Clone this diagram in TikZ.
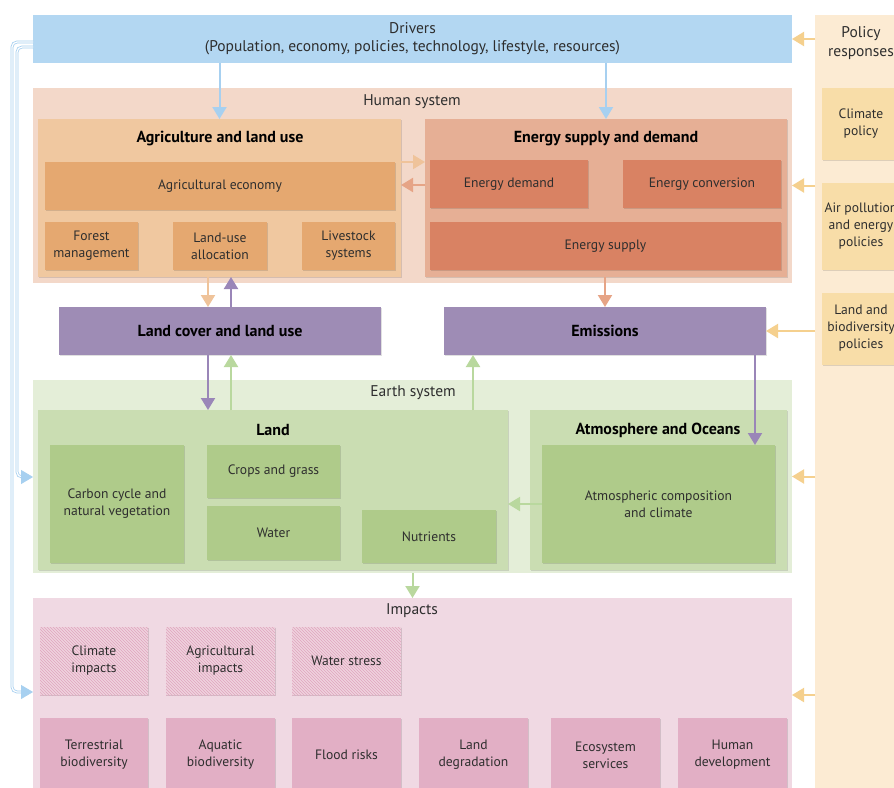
\documentclass[tikz,border=0pt]{standalone}
\usepackage{fontspec}
\setmainfont{PT Sans}
\usetikzlibrary{arrows.meta,patterns,shadows}
\definecolor{txt}{HTML}{2E2E2E}
\definecolor{drv}{HTML}{B3D7F2}
\definecolor{drva}{HTML}{A7D0F0}
\definecolor{pol}{HTML}{FCEBD3}
\definecolor{polb}{HTML}{F8DDA8}
\definecolor{pola}{HTML}{F5D08E}
\definecolor{hum}{HTML}{F3D8C9}
\definecolor{agr}{HTML}{F0C8A0}
\definecolor{agrs}{HTML}{E5A870}
\definecolor{agra}{HTML}{EFC39A}
\definecolor{ene}{HTML}{E6AF95}
\definecolor{enes}{HTML}{D98263}
\definecolor{enea}{HTML}{E6A486}
\definecolor{pur}{HTML}{9E8CB5}
\definecolor{pura}{HTML}{9A86B8}
\definecolor{ear}{HTML}{E4EED8}
\definecolor{lnd}{HTML}{CADDB2}
\definecolor{lnds}{HTML}{AFCB8A}
\definecolor{grna}{HTML}{B9D89E}
\definecolor{imp}{HTML}{F0D9E3}
\definecolor{imps}{HTML}{E2AFC5}
\definecolor{hatb}{HTML}{EFD2DE}
\definecolor{hatl}{HTML}{E0A5BE}
\newcommand\mkbox[7]{\node[#6,minimum width={#4-#2},minimum height={#5-#3}] (#1) at ({(#2+#4)/2},{(#3+#5)/2}) {#7};}
\begin{document}
\begin{tikzpicture}[x=1pt,y=-1pt,
  base/.style={draw=none,inner sep=0pt,outer sep=0pt,align=center,text=txt,font=\fontsize{13.6}{17}\selectfont},
  sub/.style={base,drop shadow={shadow xshift=1pt,shadow yshift=-1pt,fill=black,opacity=0.12}},
  ttl/.style={inner sep=0pt,text=black,font=\bfseries\fontsize{16}{18}\selectfont},
  lbl/.style={inner sep=0pt,text=txt,font=\fontsize{15.5}{18}\selectfont},
  hatched/.style={sub,fill=hatb,postaction={pattern=north west lines,pattern color=hatl}},
  arr/.style={line width=2pt,-{Triangle[width=14pt,length=12pt]}},
  fbk/.style={draw=drva,line width=0.8pt,double=white,double distance=1.2pt,rounded corners=5pt,-{Triangle[width=14pt,length=12pt,fill=drva]}}
]
\useasboundingbox (0,0) rectangle (894,787);
\fill[white] (0,0) rectangle (894,787);
% policy panel
\mkbox{pol}{815}{15}{900}{790}{base,fill=pol}{}
\node[lbl,align=center,font=\fontsize{15.5}{19}\selectfont] (polT) at (861,43) {Policy\\responses};
\mkbox{climp}{822}{88}{900}{160}{sub,fill=polb}{}
\node[base] (climpT) at (861,124) {Climate\\policy};
\mkbox{airp}{822}{183}{900}{270}{sub,fill=polb}{}
\node[base] (airpT) at (861,226) {Air pollution\\and energy\\policies};
\mkbox{landp}{822}{293}{900}{365}{sub,fill=polb}{}
\node[base] (landpT) at (861,328) {Land and\\biodiversity\\policies};
% drivers
\mkbox{drv}{33}{15}{792}{63}{base,fill=drv,font=\fontsize{15.5}{18}\selectfont}{Drivers\\(Population, economy, policies, technology, lifestyle, resources)}
% human system
\mkbox{hs}{33}{88}{792}{283}{base,fill=hum}{}
\node[lbl] (hsT) at (412,102) {Human system};
\mkbox{agri}{38}{119}{401}{277}{sub,fill=agr}{}
\node[ttl] (agriT) at (220,139) {Agriculture and land use};
\mkbox{agec}{45}{162}{395}{210}{sub,fill=agrs}{Agricultural economy}
\mkbox{forest}{45}{222}{138}{270}{sub,fill=agrs}{Forest\\management}
\mkbox{lua}{173}{222}{267}{270}{sub,fill=agrs}{Land-use\\allocation}
\mkbox{live}{302}{222}{395}{270}{sub,fill=agrs}{Livestock\\systems}
\mkbox{ene}{425}{119}{787}{277}{sub,fill=ene}{}
\node[ttl] (eneT) at (606,139) {Energy supply and demand};
\mkbox{edem}{430}{160}{588}{208}{sub,fill=enes}{Energy demand}
\mkbox{econ}{623}{160}{781}{208}{sub,fill=enes}{Energy conversion}
\mkbox{esup}{430}{222}{781}{270}{sub,fill=enes}{Energy supply}
% land cover, emissions
\mkbox{lc}{59}{307}{381}{355}{sub,fill=pur,font=\bfseries\fontsize{16}{18}\selectfont,text=black}{Land cover and land use}
\mkbox{emis}{444}{307}{766}{355}{sub,fill=pur,font=\bfseries\fontsize{16}{18}\selectfont,text=black}{Emissions}
% earth system
\mkbox{earth}{33}{380}{792}{573}{base,fill=ear}{}
\node[lbl] (earthT) at (413,393) {Earth system};
\mkbox{land}{38}{410}{508}{570}{sub,fill=lnd}{}
\node[ttl] (landT) at (273,430) {Land};
\mkbox{carb}{50}{445}{184}{563}{sub,fill=lnds}{Carbon cycle and\\natural vegetation}
\mkbox{crops}{207}{445}{340}{498}{sub,fill=lnds}{Crops and grass}
\mkbox{water}{207}{506}{340}{560}{sub,fill=lnds}{Water}
\mkbox{nutr}{362}{510}{496}{563}{sub,fill=lnds}{Nutrients}
\mkbox{atm}{530}{410}{787}{570}{sub,fill=lnd}{}
\node[ttl] (atmT) at (658,430) {Atmosphere and Oceans};
\mkbox{atmc}{542}{445}{775}{563}{sub,fill=lnds}{Atmospheric composition\\and climate}
% impacts
\mkbox{imp}{33}{598}{792}{792}{base,fill=imp}{}
\node[lbl] (impT) at (412,611) {Impacts};
\mkbox{climi}{40}{627}{148}{695}{hatched}{Climate\\impacts}
\mkbox{agri2}{166}{627}{275}{695}{hatched}{Agricultural\\impacts}
\mkbox{wstr}{292}{627}{401}{695}{hatched}{Water stress}
\mkbox{terr}{40}{718}{148}{792}{sub,fill=imps}{Terrestrial\\biodiversity}
\mkbox{aqua}{166}{718}{275}{792}{sub,fill=imps}{Aquatic\\biodiversity}
\mkbox{flood}{292}{718}{401}{792}{sub,fill=imps}{Flood risks}
\mkbox{ldeg}{419}{718}{528}{792}{sub,fill=imps}{Land\\degradation}
\mkbox{eco}{551}{718}{660}{792}{sub,fill=imps}{Ecosystem\\services}
\mkbox{hdev}{678}{718}{787}{792}{sub,fill=imps}{Human\\development}
% helper coordinates
\coordinate (xa) at (208,0);
\coordinate (xb) at (231,0);
\coordinate (xc) at (473,0);
\coordinate (xd) at (755,0);
\coordinate (ya) at (0,162);
\coordinate (yb) at (0,185);
\coordinate (o1) at (12,42);
\coordinate (o2) at (12,692);
\coordinate (i1) at (17,47);
\coordinate (i2) at (17,477);
% arrows
\draw[arr,drva] (drv.south -| agri.north) -- (agri.north);
\draw[arr,drva] (drv.south -| ene.north) -- (ene.north);
\draw[arr,agra] (agri.east |- ya) -- (ene.west |- ya);
\draw[arr,enea] (ene.west |- yb) -- (agri.east |- yb);
\draw[arr,agra] (agri.south -| xa) -- (lc.north -| xa);
\draw[arr,pura] (lc.north -| xb) -- (agri.south -| xb);
\draw[arr,enea] (ene.south -| emis.north) -- (emis.north);
\draw[arr,pura] (lc.south -| xa) -- (land.north -| xa);
\draw[arr,grna] (land.north -| xb) -- (lc.south -| xb);
\draw[arr,grna] (land.north -| xc) -- (emis.south -| xc);
\draw[arr,pura] (emis.south -| xd) -- (atmc.north -| xd);
\draw[arr,grna] (atmc.west) -- (land.east |- atmc.west);
\draw[arr,grna] (earth.south) -- (imp.north);
% policy arrows
\draw[arr,pola] (pol.west |- drv.east) -- (drv.east);
\draw[arr,pola] (pol.west |- hs.east) -- (hs.east);
\draw[arr,pola] (pol.west |- emis.east) -- (emis.east);
\draw[arr,pola] (pol.west |- earth.east) -- (earth.east);
\draw[arr,pola] (pol.west |- imp.east) -- (imp.east);
% feedback lines from drivers
\draw[fbk] (drv.west |- o1) -- (o1) -- (o2) -- (imp.west |- o2);
\draw[fbk] (drv.west |- i1) -- (i1) -- (i2) -- (earth.west |- i2);
\end{tikzpicture}
\end{document}
